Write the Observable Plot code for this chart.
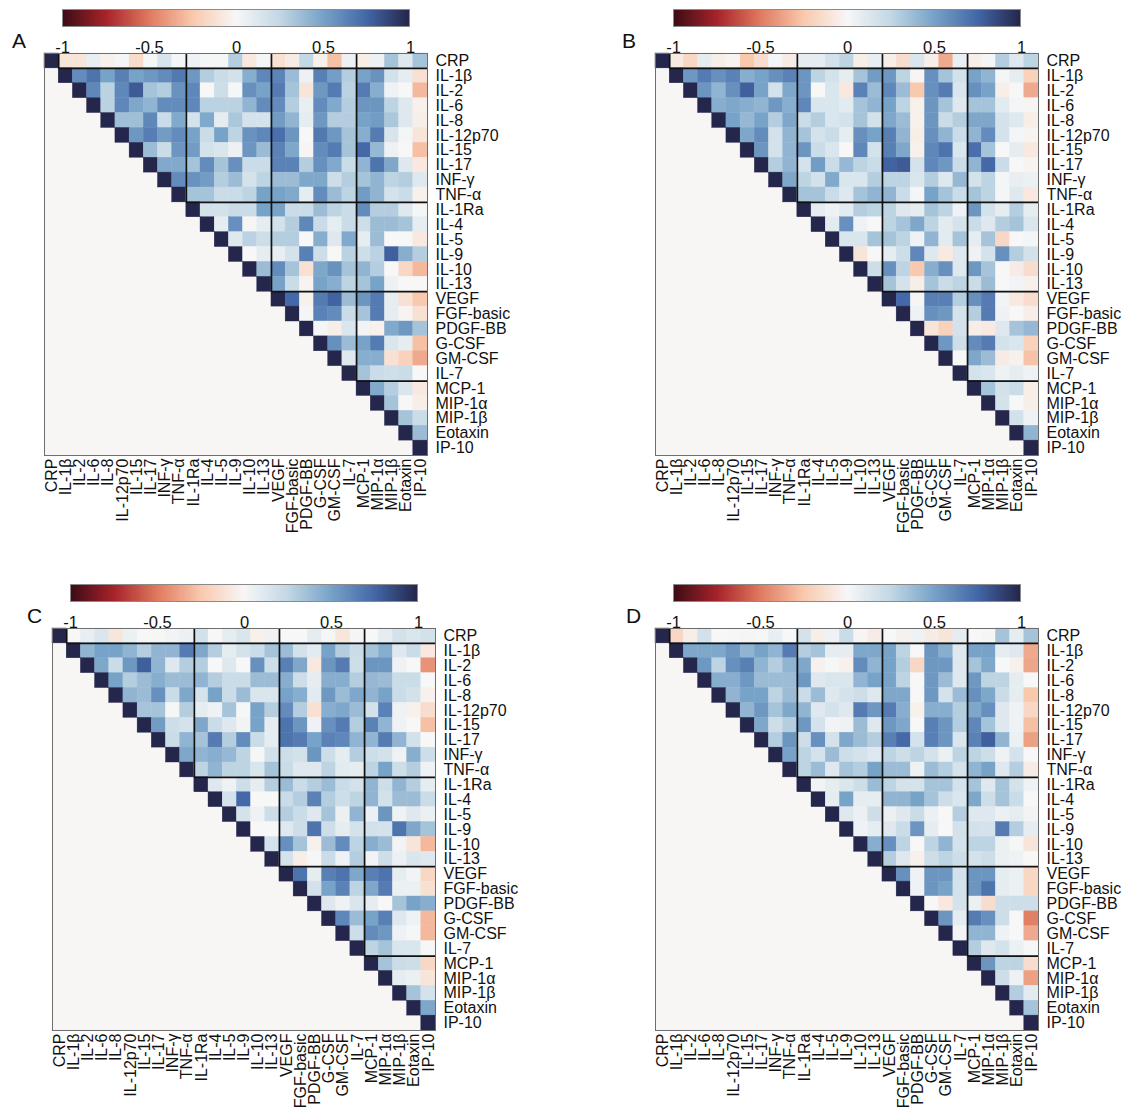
<!DOCTYPE html>
<html><head><meta charset="utf-8">
<script src="https://cdn.jsdelivr.net/npm/d3@7"></script>
<script src="https://cdn.jsdelivr.net/npm/@observablehq/plot@0.6"></script>
<style>
body{margin:0;background:#fff;}
#root{position:relative;width:1137px;height:1117px;overflow:hidden;font-family:"Liberation Sans",Arial,sans-serif;background:#fff;}
.abs{position:absolute;}
.panel-label{position:absolute;font-size:21px;line-height:1;color:#111;font-family:"Liberation Sans",Arial,sans-serif;}
.cbwrap line{display:none;}
.cbwrap text{font-size:16.5px;font-family:"Liberation Sans",Arial,sans-serif;fill:#111;}
.cbframe{position:absolute;border:1px solid #8a8a8a;box-sizing:border-box;pointer-events:none;}
</style></head><body><div id="root"></div>
<script>
const names = ["CRP","IL-1β","IL-2","IL-6","IL-8","IL-12p70","IL-15","IL-17","INF-γ","TNF-α",
  "IL-1Ra","IL-4","IL-5","IL-9","IL-10","IL-13","VEGF","FGF-basic","PDGF-BB","G-CSF","GM-CSF","IL-7",
  "MCP-1","MIP-1α","MIP-1β","Eotaxin","IP-10"];
const groupBreaks = [1, 10, 16, 22];
const colorStops = [-1, -0.75, -0.5, -0.25, 0, 0.25, 0.5, 0.75, 1];
const colorRange = ["#3c0d16","#a8232b","#e07a5f","#f9c9ad","#f7f7f7","#c3d8e5","#78a3c8","#4468a8","#24264b"];
const colorTicks = [-1, -0.5, 0, 0.5, 1];

// Each row j lists correlations with columns j+1 .. 26 (upper triangle)
const panelA = [
 [-0.1,-0.1,0.07,-0.04,0.02,-0.15,0.01,0.15,0.02, 0.04,0.01,0.01,0.3,-0.08,0.02, -0.12,-0.06,0.25,-0.04,-0.28,0.05, -0.05,0.05,0.35,0.12,0.35],
 [0.6,0.7,0.5,0.65,0.5,0.55,0.6,0.68, 0.55,0.3,0.22,0.18,0.45,0.62, 0.63,0.38,0.05,0.65,0.52,0.3, 0.5,0.57,0.18,0.08,-0.12],
 [0.62,0.28,0.62,0.8,0.35,0.3,0.57, 0.62,0,0.2,0.01,0.58,0.5, 0.67,0.35,-0.1,0.55,0.67,0.28, 0.67,0.45,0.04,0,-0.3],
 [0.28,0.62,0.48,0.42,0.6,0.6, 0.62,0.28,0.28,0.28,0.42,0.6, 0.6,0.3,0.07,0.6,0.47,0.3, 0.56,0.56,0.27,0.12,-0.04],
 [0.37,0.37,0.62,0.22,0.47, 0.17,0.47,0.08,0.33,0.17,0.17, 0.53,0.42,0.08,0.55,0.3,0.3, 0.5,0.53,0.33,0.12,-0.05],
 [0.55,0.66,0.53,0.6, 0.5,0.22,0.5,0.27,0.57,0.62, 0.72,0.56,0,0.68,0.55,0.35, 0.45,0.67,0.15,0.02,-0.1],
 [0.38,0.22,0.56, 0.53,0.17,0.14,0.05,0.56,0.38, 0.64,0.48,-0.01,0.6,0.67,0.35, 0.75,0.4,0.05,0,-0.28],
 [0.47,0.47, 0.35,0.6,0.35,0.58,0.22,0.22, 0.64,0.64,0.3,0.58,0.47,0.22, 0.42,0.7,0.48,0.12,-0.08],
 [0.6, 0.57,0.53,0.3,0.38,0.17,0.27, 0.38,0.38,0.48,0.48,0.2,0.3, 0.35,0.42,0.27,0.3,0.12],
 [0.35,0.35,0.22,0.22,0.27,0.5, 0.5,0.47,0.08,0.6,0.38,0.27, 0.53,0.42,0.17,0.22,-0.04],
 [0.18,0.18,0.22,0.22,0.5, 0.5,0.22,0.22,0.38,0.27,0.22, 0.6,0.3,0.3,0.12,0.02],
 [0.08,0.58,-0.01,0.08, 0.18,0.3,0.62,0.22,0.08,0.22, 0.2,0.38,0.38,0.35,0.08],
 [0.12,0.28,0.2, 0.3,0.3,0,0.45,0.12,0.47, 0.08,0.38,0,0,-0.08],
 [0,0.08, 0.07,0.17,0.65,0.2,0,0.28, 0.2,0.28,0.78,0.45,0.3],
 [0.38, 0.6,0.35,-0.12,0.48,0.57,0.35, 0.42,0.3,0,-0.17,-0.3],
 [0.5,0.22,-0.02,0.5,0.45,0.27, 0.35,0.5,0.05,0,0],
 [0.75,-0.03,0.67,0.77,0.38, 0.56,0.67,0.08,-0.12,-0.25],
 [0.02,0.64,0.6,0.22, 0.35,0.67,0.08,-0.02,-0.12],
 [0.02,-0.05,0.14, 0.03,-0.04,0.47,0.55,0.35],
 [0.58,0.38, 0.5,0.67,0.14,0.08,-0.28],
 [0.12, 0.45,0.45,-0.12,-0.2,-0.35],
 [0.35,0.22,0.19,0.22,0],
 [0.47,0.3,0.14,-0.08],
 [0.35,0,-0.05],
 [0.35,0.22],
 [0.38],
 []
];
const panelB = [
 [-0.07,-0.17,0.08,-0.05,-0.02,-0.25,-0.14,0.02,-0.06, 0.08,0.08,0.18,0.27,-0.05,0.07, -0.05,-0.14,0.14,-0.05,-0.35,0.07, -0.05,0.02,0.3,0.12,0.27],
 [0.55,0.67,0.58,0.64,0.45,0.5,0.58,0.64, 0.56,0.27,0.17,0.08,0.35,0.53, 0.55,0.27,-0.01,0.58,0.35,0.18, 0.5,0.42,0.02,0.08,-0.2],
 [0.56,0.42,0.58,0.78,0.5,0.18,0.48, 0.56,0,0.14,-0.08,0.64,0.38, 0.62,0.38,-0.25,0.58,0.67,0.14, 0.58,0.5,-0.05,0,-0.35],
 [0.45,0.48,0.45,0.42,0.55,0.45, 0.62,0.14,0.14,0.1,0.35,0.42, 0.5,0.27,-0.04,0.56,0.35,0.12, 0.35,0.35,0.1,0.02,-0.01],
 [0.5,0.4,0.5,0.3,0.48, 0.22,0.3,0.14,0.17,0.35,0.18, 0.48,0.38,-0.04,0.56,0.22,0.3, 0.48,0.48,0.17,0.12,-0.05],
 [0.48,0.6,0.18,0.42, 0.35,0.17,0.22,0.08,0.58,0.5, 0.65,0.42,-0.05,0.58,0.42,0.22, 0.42,0.6,0.17,0.02,-0.02],
 [0.56,0.17,0.42, 0.56,0.22,0.14,0,0.62,0.17, 0.65,0.48,-0.04,0.62,0.7,0.14, 0.72,0.35,0,0.08,-0.08],
 [0.3,0.42, 0.17,0.53,0.22,0.4,0.27,0.22, 0.77,0.8,0.17,0.62,0.55,0.22, 0.42,0.75,0.22,0,-0.02],
 [0.48, 0.27,0.18,0.47,0.14,0.14,0.3, 0.27,0.27,0.14,0.3,0.12,0.4, 0.17,0.27,0.02,0.07,0.06],
 [0.35,0.35,0.22,0.12,0.35,0.42, 0.42,0.22,0.02,0.5,0.35,0.22, 0.35,0.27,0.02,0.12,-0.08],
 [0.08,0.04,0.1,0.3,0.27, 0.27,0.12,0.08,0.35,0.27,0.04, 0.56,0.17,0.08,0.3,0.08],
 [0.1,0.58,0.04,0, 0.27,0.35,0.48,0.27,0.1,0.17, 0.22,0.12,0.3,0.35,0.14],
 [0.14,0.14,0.35, 0.35,0.27,0.04,0.42,0.1,0.35, 0.08,0.35,-0.17,0,0.02],
 [-0.1,0, 0.08,0.2,0.62,0.12,-0.07,0.12, 0.04,0.17,0.58,0.3,0.18],
 [0.2, 0.58,0.27,-0.25,0.45,0.58,0.12, 0.55,0.35,0,-0.06,-0.14],
 [0.35,0.17,-0.05,0.35,0.22,0.27, 0.22,0.38,0,0.03,-0.03],
 [0.75,-0.01,0.65,0.65,0.3, 0.58,0.67,0.03,-0.08,-0.14],
 [0.04,0.58,0.55,0.17, 0.3,0.67,0.04,0,-0.05],
 [-0.1,-0.2,0.17, -0.05,-0.07,0.12,0.35,0.4],
 [0.55,0.2, 0.6,0.67,0.17,0.14,-0.2],
 [0, 0.48,0.38,-0.06,-0.03,-0.27],
 [0.17,0.14,0.04,0.08,0.04],
 [0.35,0.18,0.22,-0.05],
 [0.17,0,-0.05],
 [0.18,0.04],
 [0.42],
 []
];
const panelC = [
 [0,0.07,0.14,-0.09,0.06,0,0.01,0.03,0.06, 0.18,0,0.08,0.14,-0.04,0.04, 0,0,0.08,0.01,-0.09,0.02, 0,0.08,0.18,0.14,0.18],
 [0.42,0.5,0.5,0.42,0.3,0.42,0.42,0.67, 0.48,0.3,0.08,0.17,0.22,0.35, 0.38,0.18,0.1,0.5,0.3,0.22, 0.35,0.45,0.12,0.22,-0.08],
 [0.48,0.22,0.55,0.78,0.42,0.12,0.3, 0.3,0,0.12,0,0.58,0.2, 0.65,0.48,-0.08,0.56,0.67,0.2, 0.56,0.56,0.04,0,-0.42],
 [0.5,0.3,0.38,0.45,0.38,0.38, 0.42,0.3,0.22,0.22,0.38,0.38, 0.45,0.2,0.08,0.45,0.45,0.3, 0.4,0.38,0.22,0.22,0],
 [0.42,0.38,0.58,0.22,0.48, 0.17,0.5,0.22,0.38,0.14,0.14, 0.5,0.45,0.1,0.55,0.38,0.48, 0.42,0.5,0.22,0.18,-0.03],
 [0.35,0.35,0.01,0.3, 0.08,0.04,0.35,0.01,0.5,0.3, 0.6,0.3,-0.12,0.45,0.48,0.38, 0.18,0.64,0.04,-0.04,-0.14],
 [0.53,0.2,0.17, 0.48,0.22,0.12,0.03,0.5,0.08, 0.7,0.56,0.04,0.58,0.67,0.3, 0.64,0.42,0.04,0,-0.28],
 [0.22,0.42, 0.35,0.67,0.3,0.6,0.22,0.08, 0.7,0.67,0.5,0.64,0.62,0.42, 0.42,0.67,0.42,0.18,0],
 [0.48, 0.42,0.45,0.4,0.27,0.01,0.18, 0.2,0.18,0.56,0.2,0.08,0.3, 0.2,0.18,0.04,0.45,0.2],
 [0.27,0.42,0.27,0.27,0.14,0.35, 0.22,0.12,0.12,0.27,0.1,0.08, 0.27,0.5,0.2,0.3,0.04],
 [0.12,0.04,0.2,0.08,0.3, 0.38,0.22,0.3,0.38,0.22,0.18, 0.42,0.2,0.42,0.3,0.08],
 [0.17,0.75,0,0, 0.22,0.3,0.64,0.3,0.2,0.27, 0.42,0.18,0.38,0.38,0.22],
 [0.17,0.04,0.2, 0.3,0.22,0.12,0.35,0.06,0.42, 0.06,0.56,0.04,0.12,0.06],
 [0,0, 0.12,0.2,0.7,0.2,0.08,0.17, 0.18,0.17,0.7,0.48,0.35],
 [0.17, 0.58,0.35,-0.03,0.38,0.6,0.27, 0.45,0.38,0.03,-0.1,-0.3],
 [0.17,-0.05,0.01,0.22,0.04,0.3, 0.03,0.2,0.06,0.14,0.12],
 [0.7,0.08,0.65,0.7,0.48, 0.65,0.7,0.08,0.03,-0.17],
 [0.18,0.5,0.64,0.27, 0.48,0.67,0.06,0.06,-0.12],
 [0.12,0.04,0.14, 0.08,0,0.35,0.5,0.45],
 [0.62,0.38, 0.5,0.65,0.12,0.04,-0.3],
 [0.2, 0.6,0.55,0.04,0.01,-0.3],
 [0.27,0.35,0.14,0.14,0.01],
 [0.35,0.22,0.2,-0.17],
 [0.08,0.06,-0.1],
 [0.35,0.17],
 [0.48],
 []
];
const panelD = [
 [-0.17,-0.05,0.18,0,0.01,-0.01,0.01,0.07,0, 0.17,-0.05,0.04,0.22,-0.01,-0.06, 0,-0.03,0.04,-0.06,-0.1,0.08, 0,-0.01,0.35,0.08,0.35],
 [0.48,0.48,0.48,0.55,0.42,0.5,0.42,0.67, 0.3,0.35,0.08,0.08,0.48,0.48, 0.5,0.27,0,0.56,0.45,0.12, 0.5,0.5,0.08,0.12,-0.35],
 [0.55,0.27,0.58,0.65,0.42,0.3,0.42, 0.48,-0.03,0.01,-0.04,0.6,0.42, 0.5,0.3,-0.17,0.55,0.55,0.12, 0.35,0.48,0,-0.04,-0.36],
 [0.45,0.45,0.55,0.38,0.38,0.38, 0.55,0.12,0.14,0.14,0.42,0.5, 0.5,0.27,0,0.55,0.38,0.12, 0.55,0.27,0.27,0.08,0],
 [0.42,0.5,0.5,0.27,0.38, 0.22,0.38,0.12,0.17,0.2,0.12, 0.48,0.48,0,0.55,0.17,0.38, 0.58,0.48,0.22,0.08,-0.25],
 [0.42,0.55,0.35,0.48, 0.42,0.12,0.17,0.12,0.67,0.55, 0.67,0.45,-0.04,0.45,0.45,0.3, 0.48,0.58,0.12,0.04,-0.17],
 [0.48,0.2,0.3, 0.55,0.17,0.03,0.04,0.38,0.12, 0.55,0.48,0,0.65,0.56,0.3, 0.62,0.35,0.12,0.04,-0.28],
 [0.3,0.56, 0.2,0.58,0.17,0.48,0.38,0.3, 0.65,0.75,0.17,0.65,0.56,0.14, 0.64,0.78,0.42,0.06,-0.38],
 [0.5, 0.27,0.17,0.38,0.2,0.17,0.12, 0.27,0.2,0.27,0.17,0.06,0.27, 0.27,0.2,0.04,0.17,0],
 [0.27,0.38,0.12,0.35,0.3,0.5, 0.38,0.38,0.04,0.38,0.3,0.17, 0.42,0.5,0.12,0.3,-0.06],
 [0.03,0.08,0.14,0.2,0.38, 0.27,0.17,0.17,0.35,0.35,0.17, 0.35,0.12,0.35,0.17,0.04],
 [0.08,0.5,0.08,0.08, 0.42,0.42,0.5,0.35,0.2,0.14, 0.48,0.2,0.35,0.22,0],
 [0.12,0.06,0.2, 0.06,0.12,0.22,0.06,0,0.3, 0.12,0.12,0.06,0.08,0.03],
 [0.04,0.08, 0.12,0.22,0.56,0.08,0,0.18, 0.18,0.17,0.67,0.3,0.08],
 [0.45, 0.58,0.27,0,0.27,0.42,0.17, 0.27,0.27,0.06,0.01,-0.1],
 [0.3,0.12,-0.03,0.2,0.27,0.2, 0.17,0.2,0.06,0.04,0],
 [0.58,0.04,0.56,0.56,0.18, 0.56,0.56,0.08,0.06,-0.17],
 [0.04,0.56,0.5,0.17, 0.56,0.7,0.08,0.06,-0.17],
 [0,-0.08,0.17, 0.06,-0.14,0.2,0.2,0.2],
 [0.56,0.08, 0.67,0.58,0.2,0,-0.48],
 [0.03, 0.42,0.42,0.04,0,-0.35],
 [0.3,0.12,0.17,0.06,0.01],
 [0.56,0.27,0.27,-0.14],
 [0.2,0.04,-0.38],
 [0.3,0.1],
 [0.35],
 []
];

const panels = [
  {label: "A", rows: panelA, mx: 44, my: 53, cbx: 62, cby: 9, lx: 12, ly: 30},
  {label: "B", rows: panelB, mx: 655, my: 53, cbx: 673, cby: 9, lx: 622, ly: 30},
  {label: "C", rows: panelC, mx: 52, my: 628, cbx: 70, cby: 584, lx: 27, ly: 605},
  {label: "D", rows: panelD, mx: 655, my: 628, cbx: 673, cby: 584, lx: 626, ly: 605}
];

const FONT = '"Liberation Sans", Arial, sans-serif';
const FS = 16;
const W = 383, H = 402, CBW = 348, CBH = 18;
const mL = 4, mR = 116, mT = 2, mB = 100;
const n = names.length;
const tickPos = names.map((_, k) => k + 0.5);
const colorOpts = {type: "linear", domain: colorStops, range: colorRange, interpolate: "rgb"};

const lines = [];
for (const b of groupBreaks) {
  lines.push({x1: b, y1: 0, x2: b, y2: b});
  lines.push({x1: b, y1: b, x2: n, y2: b});
}

const root = document.getElementById("root");

for (const p of panels) {
  const cells = [];
  p.rows.forEach((row, j) => {
    cells.push({i: j, j, v: 1});
    row.forEach((v, k) => cells.push({i: j + 1 + k, j, v}));
  });

  const chart = Plot.plot({
    width: mL + W + mR, height: mT + H + mB,
    marginLeft: mL, marginRight: mR, marginTop: mT, marginBottom: mB,
    x: {domain: [0, n]},
    y: {domain: [0, n], reverse: true},
    color: colorOpts,
    style: {background: "transparent", fontFamily: FONT, fontSize: FS + "px", color: "#111", overflow: "visible"},
    marks: [
      Plot.frame({fill: "#f7f6f5"}),
      Plot.rect(cells, {x1: "i", x2: d => d.i + 1, y1: "j", y2: d => d.j + 1, fill: "v", stroke: "v", strokeWidth: 0.4}),
      Plot.link(lines, {x1: "x1", y1: "y1", x2: "x2", y2: "y2", stroke: "#111", strokeWidth: 1.7}),
      Plot.frame({stroke: "#6e6e6e", strokeWidth: 1}),
      Plot.axisY(tickPos, {anchor: "right", tickSize: 0, tickPadding: 8, tickFormat: t => names[Math.floor(t)], label: null, fontSize: FS}),
      Plot.axisX(tickPos, {anchor: "bottom", tickSize: 0, tickPadding: 3, tickRotate: -90, tickFormat: t => names[Math.floor(t)], label: null, fontSize: FS})
    ]
  });
  const cdiv = document.createElement("div");
  cdiv.className = "abs";
  cdiv.style.left = (p.mx - mL) + "px";
  cdiv.style.top = (p.my - mT) + "px";
  cdiv.style.width = (mL + W + mR) + "px";
  cdiv.appendChild(chart);
  root.appendChild(cdiv);

  const leg = Plot.legend({
    color: colorOpts,
    legend: "ramp",
    width: CBW + 30, height: CBH + 30,
    marginLeft: 15, marginRight: 15, marginTop: 0, marginBottom: 30,
    tickSize: 11, ticks: colorTicks, tickFormat: d => String(d),
    style: {background: "transparent", overflow: "visible", fontFamily: FONT, fontSize: "16.5px"}
  });
  const ldiv = document.createElement("div");
  ldiv.className = "abs cbwrap";
  ldiv.style.left = (p.cbx - 15) + "px";
  ldiv.style.top = p.cby + "px";
  ldiv.style.width = (CBW + 30) + "px";
  ldiv.appendChild(leg);
  root.appendChild(ldiv);

  const fr = document.createElement("div");
  fr.className = "cbframe";
  fr.style.left = p.cbx + "px";
  fr.style.top = p.cby + "px";
  fr.style.width = CBW + "px";
  fr.style.height = CBH + "px";
  root.appendChild(fr);

  const lab = document.createElement("div");
  lab.className = "panel-label";
  lab.style.left = p.lx + "px";
  lab.style.top = p.ly + "px";
  lab.textContent = p.label;
  root.appendChild(lab);
}
</script></body></html>
